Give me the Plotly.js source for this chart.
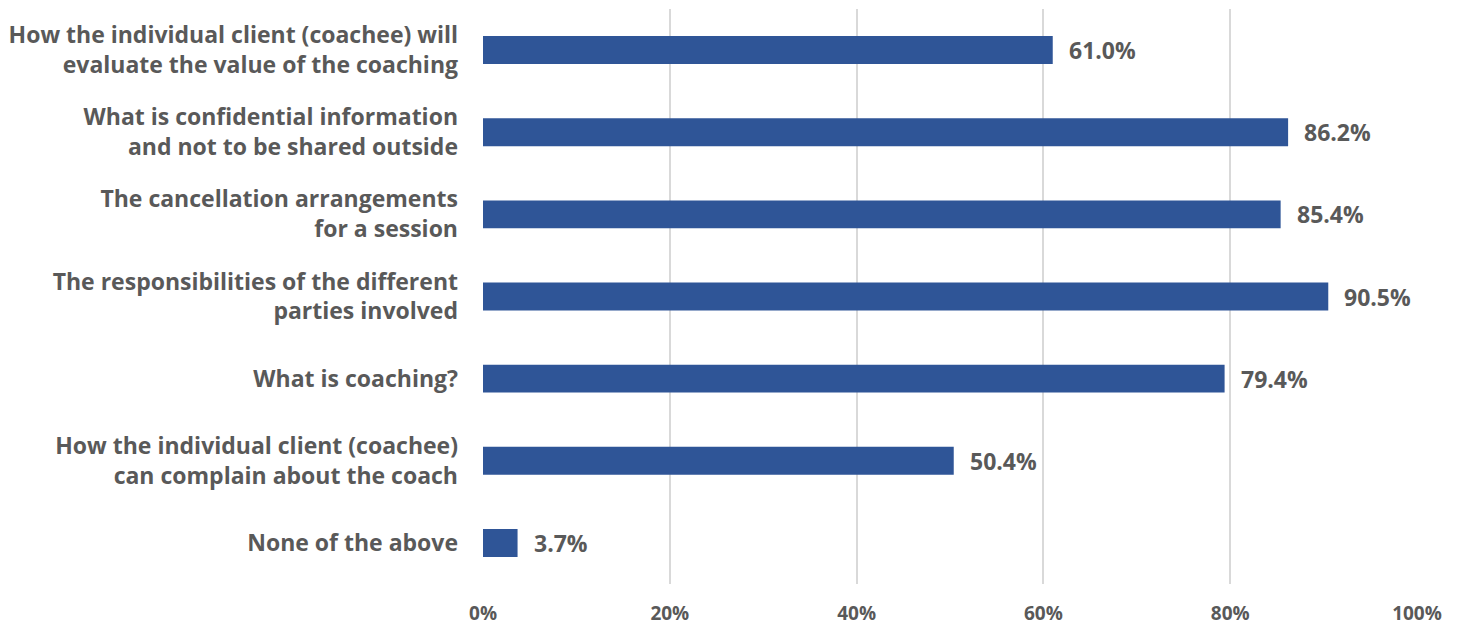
<!DOCTYPE html>
<html>
<head>
<meta charset="utf-8">
<script src="https://cdn.plot.ly/plotly-3.0.1.min.js"></script>
<style>html,body{margin:0;padding:0;background:#fff;}#chart{width:1463px;height:630px;}</style>
</head>
<body>
<div id="chart"></div>
<script>
const categories = [
  "How the individual client (coachee) will<br>evaluate the value of the coaching",
  "What is confidential information<br>and not to be shared outside",
  "The cancellation arrangements<br>for a session",
  "The responsibilities of the different<br>parties involved",
  "What is coaching?",
  "How the individual client (coachee)<br>can complain about the coach",
  "None of the above"
];
const values = [61.0, 86.2, 85.4, 90.5, 79.4, 50.4, 3.7];
const tickVals = [0, 20, 40, 60, 80, 100];
const tickText = ["0%", "20%", "40%", "60%", "80%", "100%"];

const fontFam = "'Open Sans', Lato, sans-serif";
const grey = "#595959";

const trace = {
  type: "bar",
  orientation: "h",
  x: values,
  y: categories,
  marker: {color: "#2F5597"},
  hoverinfo: "none"
};

const annotations = values.map((v, i) => ({
  x: v, y: categories[i], xref: "x", yref: "y",
  text: "<b>" + v.toFixed(1) + "%</b>",
  showarrow: false, xanchor: "left", xshift: 14,
  font: {family: fontFam, size: 23, color: grey}
}));

const layout = {
  width: 1463, height: 630,
  margin: {l: 483, r: 46, t: 9, b: 46},
  paper_bgcolor: "#fff", plot_bgcolor: "#fff",
  bargap: 0.66,
  showlegend: false,
  xaxis: {
    range: [0, 100], tickvals: tickVals, ticktext: tickText,
    showgrid: true, gridcolor: "#D9D9D9", gridwidth: 2,
    zeroline: false, showline: false, ticks: "",
    tickfont: {family: fontFam, size: 19, color: grey, weight: "bold"},
    ticklabelstandoff: 16, fixedrange: true
  },
  yaxis: {
    autorange: "reversed", showgrid: false, zeroline: false, ticks: "",
    tickfont: {family: fontFam, size: 23, color: grey, weight: "bold"},
    ticklabelstandoff: 24, fixedrange: true
  },
  annotations: annotations
};

Plotly.newPlot("chart", [trace], layout, {staticPlot: true});
</script>
</body>
</html>
